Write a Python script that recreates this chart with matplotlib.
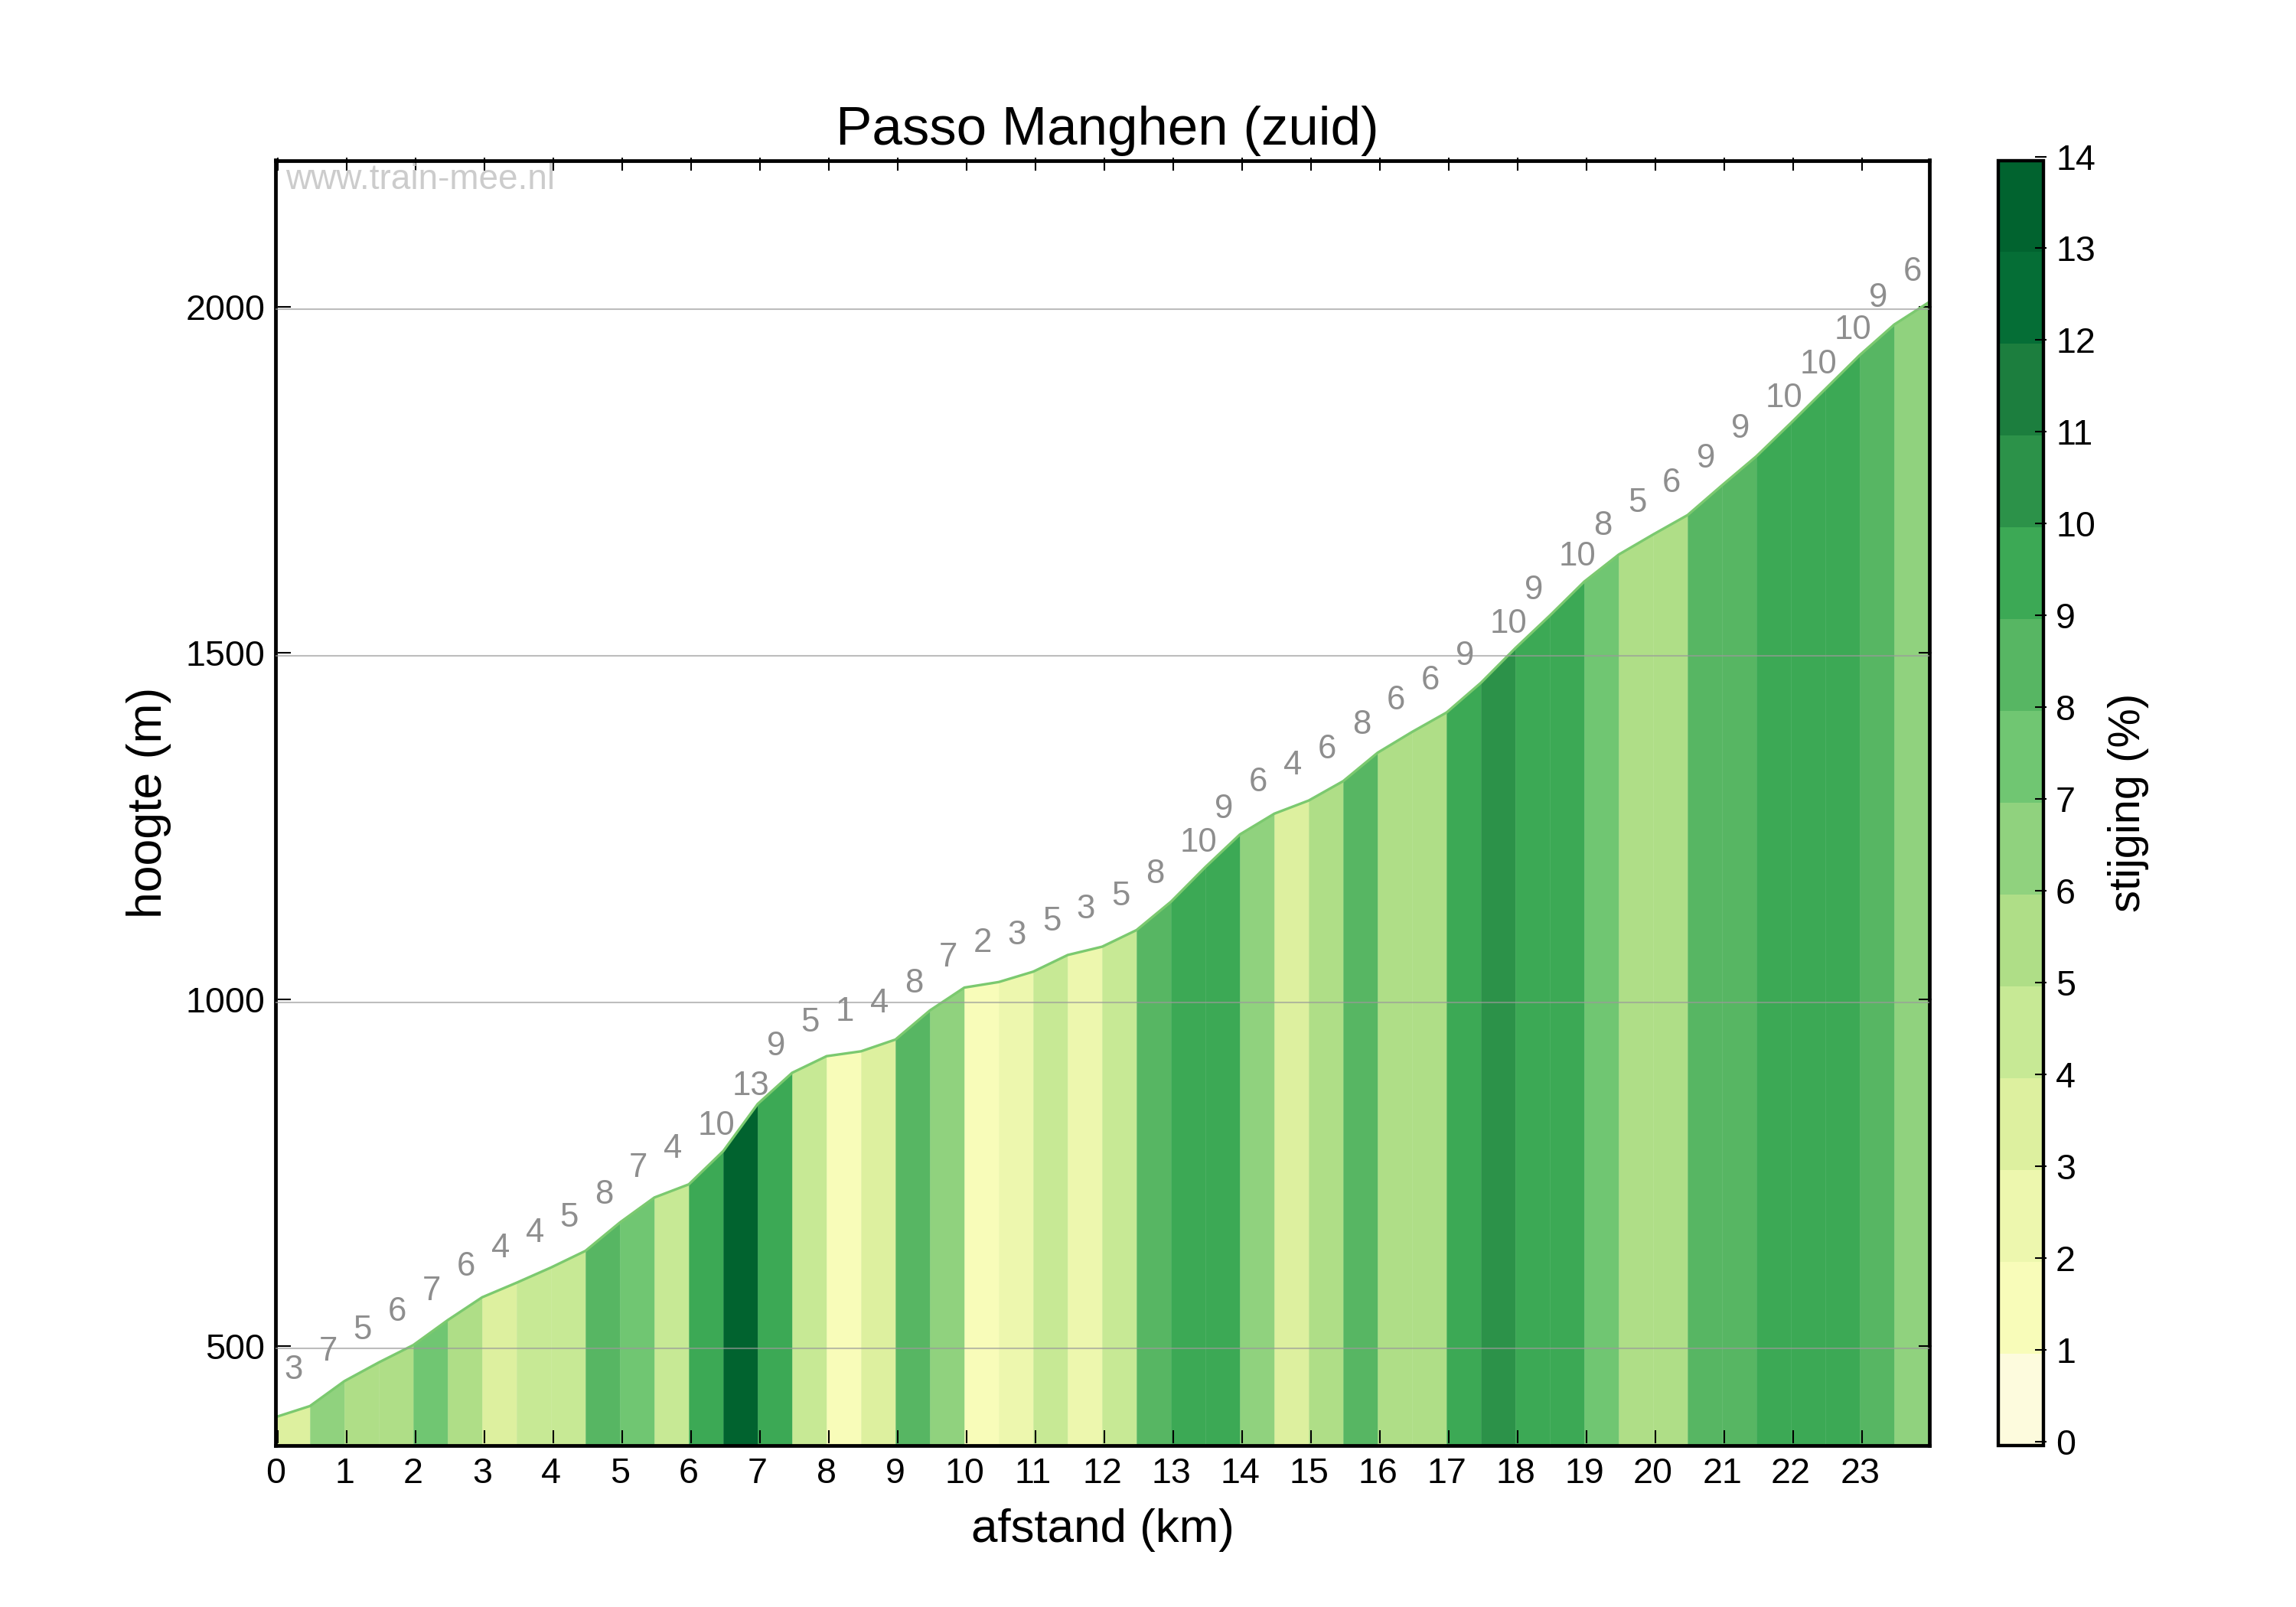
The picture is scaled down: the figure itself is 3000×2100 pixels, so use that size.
import matplotlib
matplotlib.use('Agg')
import matplotlib.pyplot as plt
import numpy as np
from matplotlib.cm import ScalarMappable
from matplotlib.colors import BoundaryNorm, ListedColormap
from matplotlib.transforms import Affine2D

# hoogte (m) at every half kilometre
elevation = [401, 417, 453, 480, 505, 541, 574, 595, 617, 641,
             682, 718, 737, 785, 853, 898, 922, 929, 946, 988,
             1021, 1029, 1044, 1068, 1080, 1104, 1145, 1195, 1242, 1272,
             1291, 1319, 1360, 1390, 1418, 1461, 1511, 1558, 1607, 1646,
             1675, 1703, 1746, 1788, 1836, 1885, 1934, 1978, 2010]
# rounded gradient written above each segment
grade_labels = [3, 7, 5, 6, 7, 6, 4, 4, 5, 8, 7, 4,
                10, 13, 9, 5, 1, 4, 8, 7, 2, 3, 5, 3,
                5, 8, 10, 9, 6, 4, 6, 8, 6, 6, 9, 10,
                9, 10, 8, 5, 6, 9, 9, 10, 10, 10, 9, 6]
# lower edge of the colour band of each segment
grade_bins = [3, 6, 5, 5, 7, 5, 3, 4, 4, 8, 7, 4,
              9, 13, 9, 4, 1, 3, 8, 6, 1, 2, 4, 2,
              4, 8, 9, 9, 6, 3, 5, 8, 5, 5, 9, 10,
              9, 9, 7, 5, 5, 8, 8, 9, 9, 9, 8, 6]
km_ticks = list(range(24))
height_ticks = [500, 1000, 1500, 2000]
grade_ticks = list(range(15))
band_colors = ['#fdfbdd', '#f8fcb9', '#edf7ae', '#ddf09f', '#c7e995', '#afde87', '#90d27e',
               '#70c672', '#57b663', '#3ca955', '#2c9249', '#1c7e3e', '#056e36', '#01632f']

plt.rcParams['font.family'] = ['Liberation Sans', 'DejaVu Sans']

distance = np.arange(len(elevation)) * 0.5
heights = np.array(elevation, dtype=float)

cmap = ListedColormap(band_colors)
norm = BoundaryNorm(grade_ticks, cmap.N)


def shift_ticks(axis, dx, dy, labels=True):
    # ticks in the original sit a few pixels away from the data
    for tick in axis.get_major_ticks():
        lines = [tick.tick1line, tick.tick2line]
        if labels:
            lines += [tick.label1, tick.label2]
        for artist in lines:
            artist.set_transform(artist.get_transform() + Affine2D().translate(dx, dy))


fig = plt.figure(figsize=(10, 7), dpi=300)
ax = fig.add_axes([360 / 3000, 211 / 2100, 2161 / 3000, 1679.5 / 2100])

for i, b in enumerate(grade_bins):
    ax.fill_between(distance[i:i + 2], heights[i:i + 2], 0, color=cmap(norm(b + 0.5)),
                    linewidth=0.1, zorder=1)
ax.plot(distance, heights, color='#7bc96f', lw=0.8, zorder=2)
ax.hlines(height_ticks, 0, 24.01, color='#9a9a9a', alpha=0.65, lw=0.5, zorder=3)

for i, g in enumerate(grade_labels):
    mid = (heights[i] + heights[i + 1]) / 2
    ax.text(distance[i] + 0.13, mid + 60, str(g), ha='left', va='center',
            fontsize=10.5, color='#8e8e8e', zorder=4)

ax.text(373 / 3000, (2100 - 247) / 2100, 'www.train-mee.nl', transform=fig.transFigure,
        ha='left', va='baseline', fontsize=11, color='#cccccc', zorder=5)

ax.set_xlim(0, 24.01)
ax.set_ylim(360, 2215)
ax.set_xticks(km_ticks)
ax.set_yticks(height_ticks)
ax.tick_params(direction='in', length=4, width=0.5, top=True, right=True, labelsize=11.2)
ax.tick_params(axis='x', pad=3.7)
ax.tick_params(axis='y', pad=4)
for side in ax.spines.values():
    side.set_linewidth(1.15)
ax.set_xlabel('afstand (km)', fontsize=14.85, labelpad=5.4)
ax.set_ylabel('hoogte (m)', fontsize=15, labelpad=4.3)
ax.set_title('Passo Manghen (zuid)', fontsize=17, pad=5, x=0.503)

cax = fig.add_axes([2611 / 3000, 211 / 2100, 59 / 3000, 1679.5 / 2100])
cbar = fig.colorbar(ScalarMappable(norm=norm, cmap=cmap), cax=cax, ticks=grade_ticks,
                    spacing='proportional')
cbar.outline.set_linewidth(1.05)
cax.tick_params(direction='in', length=3.6, width=0.5, labelsize=11.2, pad=2.9)
cbar.set_label('stijging (%)', fontsize=13.9, rotation=90, labelpad=3.8)

fig.canvas.draw()
shift_ticks(ax.xaxis, 3, 3.5, labels=False)
shift_ticks(ax.yaxis, 3, 3.5)
shift_ticks(cax.yaxis, 4, 5)

fig.savefig('out.png', dpi=300, facecolor='white')
